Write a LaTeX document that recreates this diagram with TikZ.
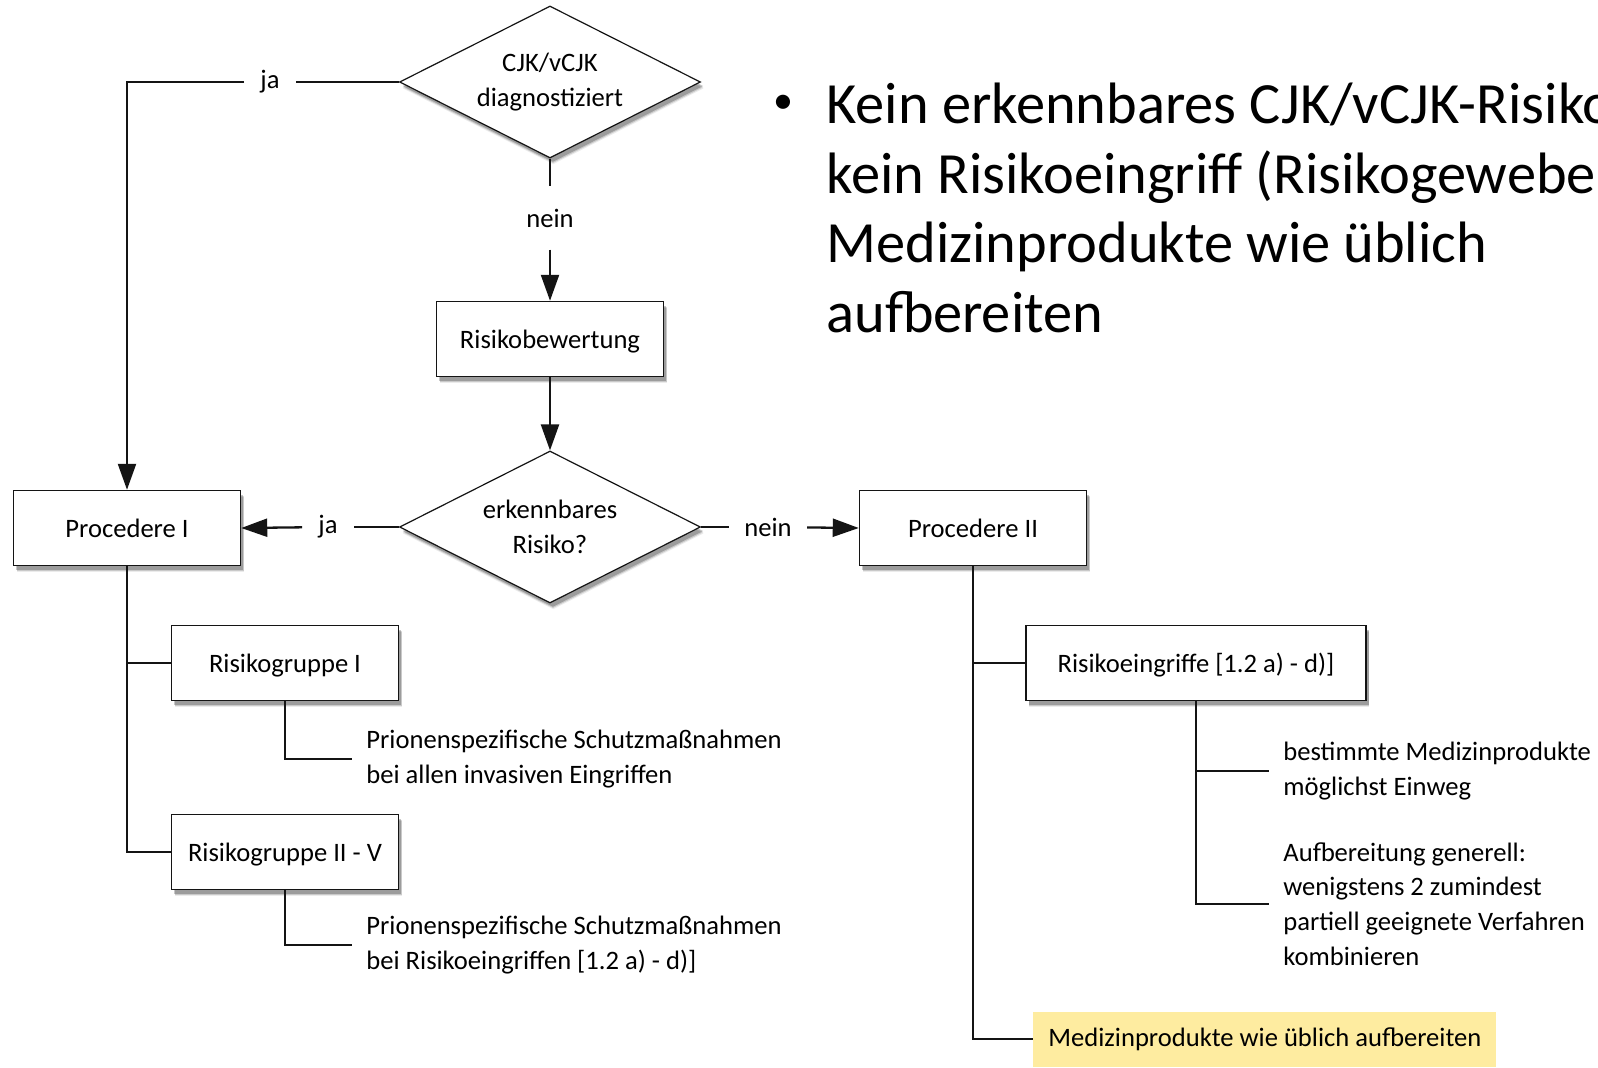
\documentclass[tikz,border=0pt]{standalone}
\usepackage{fontspec}
\setmainfont{Carlito}
\usetikzlibrary{shapes.geometric,arrows.meta,shadows}
\definecolor{hl}{RGB}{254,236,160}
\definecolor{ln}{RGB}{20,20,20}
\tikzset{
  soft/.style={
    general shadow={shadow xshift=1.6pt, shadow yshift=-3.2pt, fill=black, opacity=0.08},
    general shadow={shadow xshift=1.5pt, shadow yshift=-2.6pt, fill=black, opacity=0.14},
    general shadow={shadow xshift=1.4pt, shadow yshift=-2.0pt, fill=black, opacity=0.22}},
  procbox/.style={draw=ln, line width=0.75pt, fill=white, soft, minimum width=113.5pt, minimum height=37.5pt, inner sep=0pt, text height=0.9em, text depth=0pt, font=\fontsize{13.3}{17.4}\selectfont},
  decis/.style={draw=ln, line width=0.6pt, fill=white, soft, shape=diamond, aspect=1.98, minimum width=150.5pt, minimum height=76pt, inner sep=0pt, align=center, font=\fontsize{13.3}{17.6}\selectfont},
  lbl/.style={inner xsep=8pt, inner ysep=2pt, font=\fontsize{13.3}{17.4}\selectfont},
  note/.style={anchor=west, align=left, inner xsep=7pt, inner ysep=0pt, font=\fontsize{13.3}{17.4}\selectfont},
  bigtxt/.style={anchor=base west, inner sep=0pt, font=\fontsize{29.2}{34.7}\selectfont},
  conn/.style={draw=ln, line width=1.15pt},
  arr/.style={conn, -{Triangle[length=13pt, width=9pt]}},
}
\begin{document}
\begin{tikzpicture}[x=0.5pt, y=-0.5pt]
\clip (0,0) rectangle (1598,1067);
\useasboundingbox (0,0) rectangle (1598,1067);
\fill[white] (0,0) rectangle (1598,1067);

% nodes
\node[decis] (d1) at (550,82) {CJK/vCJK\\diagnostiziert};
\node[procbox] (rb) at (550,339) {Risikobewertung};
\node[decis] (d2) at (550,527) {erkennbares\\Risiko?};
\node[procbox] (p1) at (127,528) {Procedere I};
\node[procbox] (p2) at (973,528) {Procedere II};
\node[procbox] (rg1) at (285,663) {Risikogruppe I};
\node[procbox] (rg2) at (285,852) {Risikogruppe II - V};
\node[procbox, minimum width=170pt] (re) at (1196,663) {Risikoeingriffe [1.2 a) - d)]};

\node[note] (t1) at (352,759) {Prionenspezifische Schutzmaßnahmen\\bei allen invasiven Eingriffen};
\node[note] (t2) at (352,945) {Prionenspezifische Schutzmaßnahmen\\bei Risikoeingriffen [1.2 a) - d)]};
\node[note] (t3) at (1269,771) {bestimmte Medizinprodukte\\möglichst Einweg};
\node[note] (t4) at (1269,904) {Aufbereitung generell:\\wenigstens 2 zumindest\\partiell geeignete Verfahren\\kombinieren};
\node[anchor=west, fill=hl, inner xsep=7.5pt, minimum height=27.5pt, font=\fontsize{13.3}{17.4}\selectfont] (yel) at (1033,1039) {Medizinprodukte wie üblich aufbereiten};

% labels
\node[lbl] (ja1) at (270,82) {ja};
\node[lbl, inner xsep=2pt, inner ysep=11pt] (nein1) at (550,218) {nein};
\node[lbl] (ja2) at (328,527) {ja};
\node[lbl, inner xsep=7.5pt] (nein2) at (768,527) {nein};

% big text
\node[font=\fontsize{20}{20}\selectfont, inner sep=0pt] (bul) at (783,104) {•};
\node[bigtxt] (big1) at (826,123.5) {Kein erkennbares CJK/vCJK-Risiko und};
\node[bigtxt] (big2) at (826,193) {kein Risikoeingriff (Risikogewebe):};
\node[bigtxt] (big3) at (826,262.5) {Medizinprodukte wie üblich};
\node[bigtxt] (big4) at (826,332) {aufbereiten};

% connectors
\draw[conn] (d1.west) -- (ja1);
\draw[arr] (ja1) -| (p1.north);
\draw[conn] (d1.south) -- (nein1);
\draw[arr] (nein1) -- (rb.north);
\draw[arr] (rb.south) -- (d2.north);
\draw[conn] (d2.west) -- (ja2);
\draw[arr] (ja2) -- (p1.east);
\draw[conn] (d2.east) -- (nein2);
\draw[arr] (nein2) -- (p2.west);

\draw[conn] (p1.south) |- (rg1.west);
\draw[conn] (p1.south) |- (rg2.west);
\draw[conn] (rg1.south) |- (t1.west);
\draw[conn] (rg2.south) |- (t2.west);

\draw[conn] (p2.south) |- (re.west);
\draw[conn] (p2.south) |- (yel.west);
\draw[conn] (re.south) |- (t3.west);
\draw[conn] (re.south) |- (t4.west);
\end{tikzpicture}
\end{document}
